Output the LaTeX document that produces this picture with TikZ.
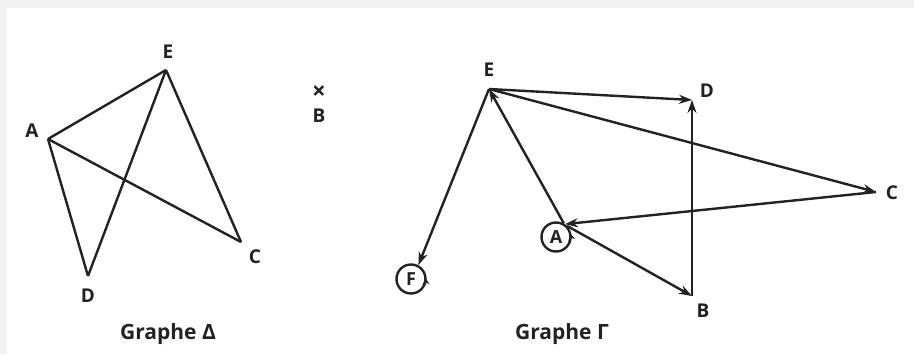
\documentclass[tikz,border=0pt]{standalone}
\usepackage{fontspec}
\setmainfont{Open Sans}
\usetikzlibrary{arrows.meta}
\definecolor{ink}{HTML}{222222}
\definecolor{frame}{HTML}{F2F2F2}
\tikzset{
  edge/.style={draw=ink, line width=2.4pt},
  arc/.style={edge, -{Stealth[length=13pt,width=9pt]}},
  loopmark/.style={draw=ink, line width=1.8pt, -{Stealth[length=7pt,width=7pt]}},
  lbl/.style={text=ink, font=\bfseries\fontsize{19}{22}\selectfont, inner sep=0pt},
  caption/.style={text=ink, font=\bfseries\fontsize{21}{24}\selectfont, inner sep=0pt},
  ring/.style={circle, draw=ink, line width=2.4pt, minimum size=29pt, inner sep=0pt,
               text=ink, font=\bfseries\fontsize{18}{20}\selectfont}
}
\begin{document}
\begin{tikzpicture}[x=1pt,y=1pt]
  % frame
  \fill[frame] (0,0) rectangle (914,354);
  \fill[white] (7,0) rectangle (914,346);
  \useasboundingbox (0,0) rectangle (914,354);

  % ---- Graphe Delta (undirected) ----
  \coordinate (dA) at (48,215);
  \coordinate (dE) at (166,284);
  \coordinate (dD) at (88,78);
  \coordinate (dC) at (241,112);
  \node[lbl] (ldA) at (32,223) {A};
  \node[lbl] (ldE) at (168,302) {E};
  \node[lbl] (ldD) at (88,58) {D};
  \node[lbl] (ldC) at (255,97) {C};
  \node[lbl, font=\bfseries\fontsize{24}{26}\selectfont] (dB) at (319,261) {×};
  \node[lbl] (ldB) at (319,238) {B};
  \draw[edge] (dA) -- (dE);
  \draw[edge] (dA) -- (dD);
  \draw[edge] (dA) -- (dC);
  \draw[edge] (dE) -- (dD);
  \draw[edge] (dE) -- (dC);
  \node[caption] (capD) at (168,20) {Graphe Δ};

  % ---- Graphe Gamma (directed) ----
  \coordinate (gE) at (489,265);
  \coordinate (gD) at (692,254);
  \coordinate (gC) at (876,162);
  \coordinate (gB) at (692,58);
  \node[ring] (gA) at (556,117) {A};
  \node[ring] (gF) at (411,75) {F};
  \node[lbl] (lgE) at (489,284) {E};
  \node[lbl] (lgD) at (707,263) {D};
  \node[lbl] (lgC) at (892,161) {C};
  \node[lbl] (lgB) at (703,43) {B};

  \draw[arc] (gE) -- (gD);
  \draw[arc] (gB) -- (gD);
  \draw[arc] (gE) -- (gC);
  \draw[arc] (gC) -- (gA.55);
  \draw[arc] (gA.60) -- (gE);
  \draw[arc] (gA.45) -- (gB);
  \draw[arc] (gE) -- (gF.62);
  % loops on A and F
  \draw[loopmark] ([shift={(-25:14.5)}]gA.center) arc[start angle=-25, end angle=15, radius=14.5];
  \draw[loopmark] ([shift={(-35:14.5)}]gF.center) arc[start angle=-35, end angle=5, radius=14.5];
  \node[caption] (capG) at (562,20) {Graphe Γ};
\end{tikzpicture}
\end{document}
